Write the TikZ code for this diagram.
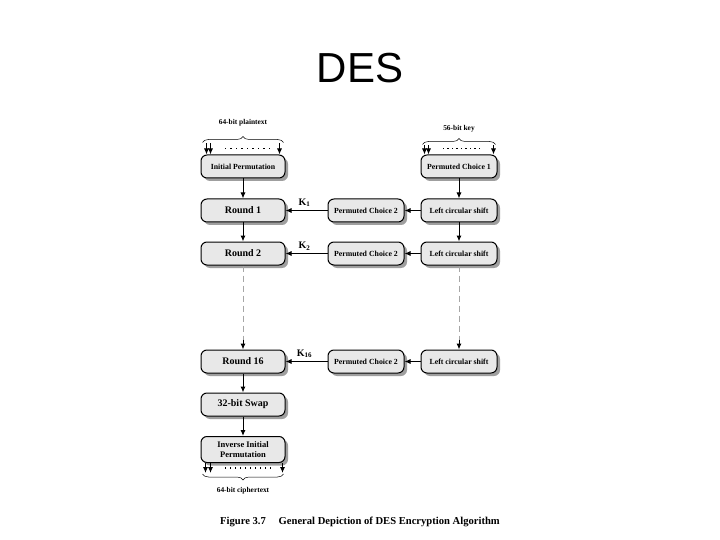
\documentclass[tikz,border=0pt]{standalone}
\usepackage{fontspec}
\setmainfont{Liberation Serif}
\newfontfamily\titlefont{Liberation Sans}
\usetikzlibrary{arrows.meta,shadows,decorations.pathreplacing,calc}
\begin{document}
\begin{tikzpicture}[x=1pt,y=-1pt,
  box/.style={draw=black, line width=1pt, rounded corners=6pt, fill=gray!18,
    minimum width=84pt, minimum height=23pt, inner sep=1pt, align=center,
    drop shadow={shadow xshift=3pt, shadow yshift=-3pt, fill=gray!75, opacity=1}},
  sbox/.style={box, minimum width=76pt, font=\bfseries\fontsize{7.8}{8.8}\selectfont},
  bbox/.style={box, font=\bfseries\fontsize{10}{11}\selectfont},
  arr/.style={-{Latex[length=6pt,width=5pt]}, line width=1pt},
  dashline/.style={draw=gray!70, dash pattern=on 6pt off 4pt, line width=0.8pt},
  klab/.style={font=\bfseries\fontsize{10}{11}\selectfont, inner sep=0pt},
  brc/.style={decorate, decoration={brace, amplitude=6pt}, line width=0.5pt},
  lab/.style={font=\bfseries\fontsize{7.4}{8.4}\selectfont, inner sep=0pt}]
\useasboundingbox (0,0) rectangle (720,540);
\fill[white] (0,0) rectangle (720,540);

\node[font=\titlefont\fontsize{42}{44}\selectfont, inner sep=0pt] (title) at (360,68) {DES};

% left column
\node[sbox, minimum width=84pt] (ip) at (243,166.5) {Initial Permutation};
\node[bbox] (r1) at (243,210.5) {Round 1};
\node[bbox] (r2) at (243,253.5) {Round 2};
\node[bbox] (r16) at (243,361.5) {Round 16};
\node[bbox] (swap) at (243,404.5) {32-bit Swap};
\node[sbox, minimum width=84pt, minimum height=26pt, inner sep=0pt, font=\bfseries\fontsize{8.5}{9.5}\selectfont] (iip) at (243,449.5) {Inverse Initial\\Permutation};

% middle column
\node[sbox] (pcA) at (366,210.5) {Permuted Choice 2};
\node[sbox] (pcB) at (366,253.5) {Permuted Choice 2};
\node[sbox] (pcC) at (366,361.5) {Permuted Choice 2};

% right column
\node[sbox] (pc1) at (459,166.5) {Permuted Choice 1};
\node[sbox] (lcsA) at (459,210.5) {Left circular shift};
\node[sbox] (lcsB) at (459,253.5) {Left circular shift};
\node[sbox] (lcsC) at (459,361.5) {Left circular shift};

% vertical flow
\draw[arr] (ip) -- (r1);
\draw[arr] (r1) -- (r2);
\coordinate (dl) at ($(r16.north)+(0,-10)$);
\draw[dashline] (r2.south) -- (dl);
\draw[arr] (dl) -- (r16.north);
\draw[arr] (r16) -- (swap);
\draw[arr] (swap) -- (iip);

\draw[arr] (pc1) -- (lcsA);
\draw[arr] (lcsA) -- (lcsB);
\coordinate (dr) at ($(lcsC.north)+(0,-10)$);
\draw[dashline] (lcsB.south) -- (dr);
\draw[arr] (dr) -- (lcsC.north);

% key path
\draw[arr] (lcsA) -- (pcA);
\draw[arr] (lcsB) -- (pcB);
\draw[arr] (lcsC) -- (pcC);
\draw[arr] (pcA) -- node[klab, above=3pt, pos=0.55] (k1) {K$_{\mathbf{1}}$} (r1);
\draw[arr] (pcB) -- node[klab, above=3pt, pos=0.55] (k2) {K$_{\mathbf{2}}$} (r2);
\draw[arr] (pcC) -- node[klab, above=3pt, pos=0.55] (k16) {K$_{\mathbf{16}}$} (r16);

% plaintext input
\node[lab] (pt) at (243,123) {64-bit plaintext};
\draw[brc] ([xshift=2pt,yshift=12pt]ip.north west) -- ([xshift=-2pt,yshift=12pt]ip.north east);
\foreach \dx in {6,10} \draw[arr] ([xshift=\dx pt,yshift=11pt]ip.north west) -- ([xshift=\dx pt]ip.north west);
\draw[arr] ([xshift=-6pt,yshift=11pt]ip.north east) -- ([xshift=-6pt]ip.north east);
\foreach \i in {0,...,8} \fill ($(ip.north west)+(24+\i*5.5,-5)$) rectangle ++(1.6,-1.6);

% key input
\node[lab] (kt) at (459,129) {56-bit key};
\draw[brc] ([xshift=2pt,yshift=10pt]pc1.north west) -- ([xshift=-2pt,yshift=10pt]pc1.north east);
\foreach \dx in {4,8} \draw[arr] ([xshift=\dx pt,yshift=9pt]pc1.north west) -- ([xshift=\dx pt]pc1.north west);
\draw[arr] ([xshift=-4pt,yshift=9pt]pc1.north east) -- ([xshift=-4pt]pc1.north east);
\foreach \i in {0,...,8} \fill ($(pc1.north west)+(22+\i*4.5,-5)$) rectangle ++(1.6,-1.6);

% ciphertext output
\foreach \dx in {5,10} \draw[arr] ([xshift=\dx pt]iip.south west) -- ([xshift=\dx pt,yshift=-10pt]iip.south west);
\draw[arr] ([xshift=-3pt]iip.south east) -- ([xshift=-3pt,yshift=-10pt]iip.south east);
\foreach \i in {0,...,9} \fill ($(iip.south west)+(24+\i*5,4)$) rectangle ++(1.6,1.6);
\draw[brc] ([xshift=-2pt,yshift=-11pt]iip.south east) -- ([xshift=2pt,yshift=-11pt]iip.south west);
\node[lab] (ct) at (243,491) {64-bit ciphertext};

% caption
\node[font=\bfseries\fontsize{10.6}{12}\selectfont, inner sep=0pt] (cap) at (360,522) {Figure 3.7\hspace{1.2em}General Depiction of DES Encryption Algorithm};
\end{tikzpicture}
\end{document}
